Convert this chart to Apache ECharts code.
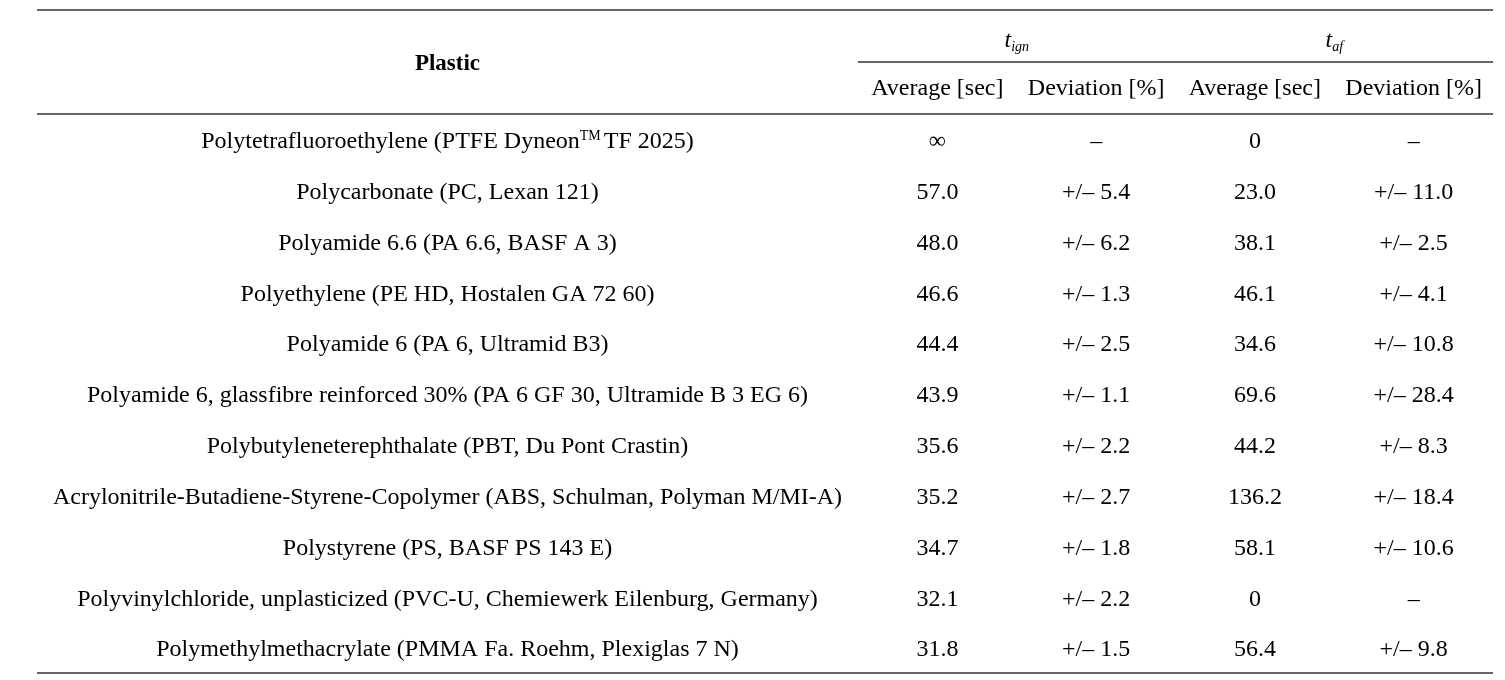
<!DOCTYPE html>
<html><head><meta charset="utf-8">
<script src="https://cdn.jsdelivr.net/npm/echarts@6/dist/echarts.min.js"></script>
<style>html,body{margin:0;padding:0;background:#fff}#c{width:1505px;height:680px}</style>
</head><body><div id="c"></div>
<script>
const plastics = [
  'Polytetrafluoroethylene (PTFE Dyneon™ TF 2025)',
  'Polycarbonate (PC, Lexan 121)',
  'Polyamide 6.6 (PA 6.6, BASF A 3)',
  'Polyethylene (PE HD, Hostalen GA 72 60)',
  'Polyamide 6 (PA 6, Ultramid B3)',
  'Polyamide 6, glassfibre reinforced 30% (PA 6 GF 30, Ultramide B 3 EG 6)',
  'Polybutyleneterephthalate (PBT, Du Pont Crastin)',
  'Acrylonitrile-Butadiene-Styrene-Copolymer (ABS, Schulman, Polyman M/MI-A)',
  'Polystyrene (PS, BASF PS 143 E)',
  'Polyvinylchloride, unplasticized (PVC-U, Chemiewerk Eilenburg, Germany)',
  'Polymethylmethacrylate (PMMA Fa. Roehm, Plexiglas 7 N)'
];
const tIgnAverage   = [Infinity, 57.0, 48.0, 46.6, 44.4, 43.9, 35.6, 35.2, 34.7, 32.1, 31.8];
const tIgnDeviation = [null, 5.4, 6.2, 1.3, 2.5, 1.1, 2.2, 2.7, 1.8, 2.2, 1.5];
const tAfAverage    = [0, 23.0, 38.1, 46.1, 34.6, 69.6, 44.2, 136.2, 58.1, 0, 56.4];
const tAfDeviation  = [null, 11.0, 2.5, 4.1, 10.8, 28.4, 8.3, 18.4, 10.6, null, 9.8];
const plasticHeader = 'Plastic';
const groupSubscripts = ['ign', 'af'];
const subHeaders = ['Average [sec]', 'Deviation [%]', 'Average [sec]', 'Deviation [%]'];

// layout (not data)
const W = 1505, H = 680;
const tableLeft = 37, tableRight = 1493, plasticRight = 858;
const ruleTop = 10, ruleGroup = 62, ruleHead = 114, ruleBottom = 673;
const colW = (tableRight - plasticRight) / 4;
const colX = [ (tableLeft + plasticRight) / 2 ];
for (let i = 0; i < 4; i++) colX.push(plasticRight + colW * (i + 0.5));
const FONT = '"Liberation Serif", "Times New Roman", serif';
const FS = 24;
const INK = '#000';

function fmtAvg(v) { return v === Infinity ? '∞' : (v === 0 ? '0' : v.toFixed(1)); }
function fmtDev(v) { return v == null ? '–' : '+/– ' + v.toFixed(1); }

const columns = [
  plastics.map(s => s.replace('™ ', '{sup|TM}{gap| }')),
  tIgnAverage.map(fmtAvg),
  tIgnDeviation.map(fmtDev),
  tAfAverage.map(fmtAvg),
  tAfDeviation.map(fmtDev)
];

const series = columns.map((col, ci) => ({
  type: 'scatter',
  symbolSize: 1,
  itemStyle: { color: 'rgba(0,0,0,0)' },
  silent: true,
  data: col.map((txt, ri) => ({ value: [colX[ci], ri], txt })),
  label: {
    show: true, position: 'inside', opacity: 1,
    formatter: p => p.data.txt,
    fontFamily: FONT, fontSize: FS, color: INK, textBorderWidth: 0,
    rich: {
      sup: { fontFamily: FONT, fontSize: 14, color: INK, verticalAlign: 'top', lineHeight: 26 },
      gap: { fontFamily: FONT, fontSize: 12, color: INK }
    }
  }
}));

const rule = (x1, x2, y, w) => ({ type: 'line', shape: { x1, y1: y, x2, y2: y }, style: { stroke: '#333', lineWidth: w }, silent: true });
const txt = (x, y, text, extra) => ({ type: 'text', x, y, silent: true,
  style: Object.assign({ text, fontFamily: FONT, fontSize: FS, fill: INK, align: 'center', verticalAlign: 'middle' }, extra || {}) });

const graphics = [
  rule(tableLeft, tableRight, ruleTop, 1.6),
  rule(plasticRight, tableRight, ruleGroup, 1.4),
  rule(tableLeft, tableRight, ruleHead, 1.6),
  rule(tableLeft, tableRight, ruleBottom, 1.6),
  txt(colX[0], (ruleTop + ruleHead) / 2 + 2, plasticHeader, { fontWeight: 'bold', fontSize: 23 })
];
groupSubscripts.forEach((s, i) => {
  graphics.push(txt(plasticRight + colW * (2 * i + 1), 41, '{t|t}{sub|' + s + '}', {
    rich: {
      t: { fontFamily: FONT, fontSize: FS, fontStyle: 'italic', fill: INK, lineHeight: 26 },
      sub: { fontFamily: FONT, fontSize: 14, fontStyle: 'italic', fill: INK, lineHeight: 14, verticalAlign: 'top', padding: [12, 0, 0, 0] }
    }
  }));
});
subHeaders.forEach((s, i) => graphics.push(txt(colX[i + 1], (ruleGroup + ruleHead) / 2 + 1, s)));

const chart = echarts.init(document.getElementById('c'), null, { renderer: 'canvas' });
chart.setOption({
  animation: false,
  backgroundColor: '#fff',
  grid: { left: 0, right: 0, top: ruleHead + 2.5, bottom: H - ruleBottom - 2.5 },
  xAxis: { type: 'value', min: 0, max: W, show: false },
  yAxis: { type: 'category', data: plastics, inverse: true, show: false },
  series,
  graphic: graphics
});
</script></body></html>
